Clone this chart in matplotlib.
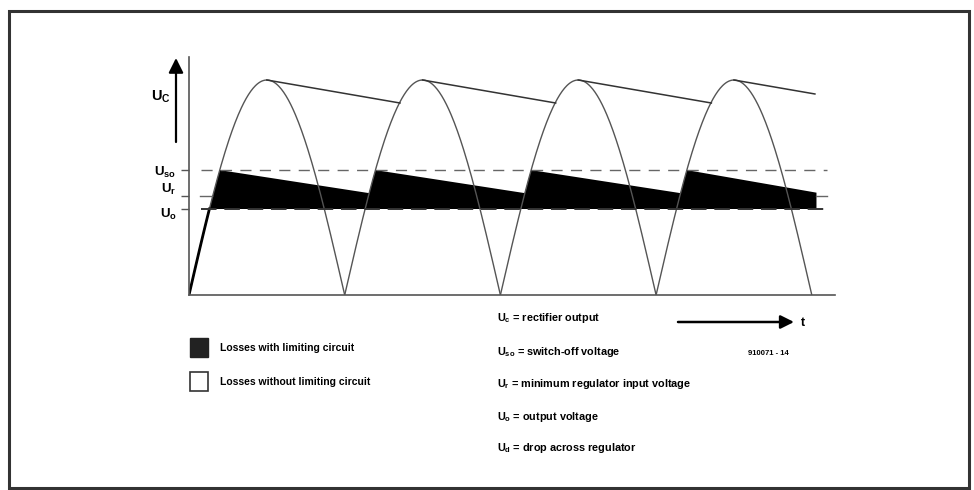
import numpy as np
import matplotlib
matplotlib.use("Agg")
import matplotlib.pyplot as plt
from matplotlib.patches import Rectangle

plt.rcParams['font.family'] = ['Liberation Sans', 'DejaVu Sans']
plt.rcParams['font.weight'] = 'bold'
plt.rcParams['mathtext.fontset'] = 'custom'
plt.rcParams['mathtext.rm'] = 'Liberation Sans:bold'
plt.rcParams['mathtext.it'] = 'Liberation Sans:bold'
plt.rcParams['mathtext.bf'] = 'Liberation Sans:bold'

# x in half-periods of the mains, y relative to the peak voltage
arch_zeros = [0, 1, 2, 3]          # start of each rectified half wave
peak = 1.0
u_so = 0.581                        # switch-off voltage
u_r = 0.46                          # min regulator input
u_o = 0.40                          # output voltage

# capacitor discharge lines (peak -> where next half wave catches up)
cap_x0 = [0.5, 1.5, 2.5, 3.5]
cap_x1 = [1.355, 2.355, 3.355, 4.02]
cap_y1 = [0.893, 0.893, 0.893, 0.935]

# limited circuit: charged to U_so, then decays until next half wave
lim_x0 = [0.197, 1.197, 2.197, 3.197]
lim_x1 = [1.155, 2.155, 3.155, 4.03]
lim_y1 = [0.474, 0.474, 0.474, 0.476]

level_labels = [r'$U_{so}$', r'$U_r$', r'$U_o$']
legend_items = ['Losses with limiting circuit', 'Losses without limiting circuit']
notes = [r'$U_c$ = rectifier output',
         r'$U_{so}$ = switch-off voltage',
         r'$U_r$ = minimum regulator input voltage',
         r'$U_o$ = output voltage',
         r'$U_d$ = drop across regulator']

W, H = 974, 490
fig = plt.figure(figsize=(W / 100, H / 100), dpi=100)

# overlay in pixel coordinates for frame, legend and notes
ov = fig.add_axes([0, 0, 1, 1])
ov.set_xlim(0, W)
ov.set_ylim(H, 0)
ov.axis('off')

ax = fig.add_axes([189 / W, 1 - 295 / H, (835 - 189) / W, (295 - 57) / H])
ax.set_xlim(0, 4.149)
ax.set_ylim(0, 1.107)
for s in ['top', 'right']:
    ax.spines[s].set_visible(False)
for s in ['left', 'bottom']:
    ax.spines[s].set_color('#555555')
    ax.spines[s].set_linewidth(1.2)
ax.set_xticks([])
ax.set_yticks([u_so, u_r, u_o])
ax.set_yticklabels([])
ax.tick_params(axis='y', length=6, width=1, color='#555555')
ax.patch.set_alpha(0)


def arch(x):
    return peak * np.abs(np.sin(np.pi * np.asarray(x)))


# rectified sine half waves
for z in arch_zeros:
    xs = np.linspace(z, z + 1, 200)
    ax.plot(xs, arch(xs), color='#555555', lw=1.0)

# capacitor discharge without limiting
for x0, x1, y1 in zip(cap_x0, cap_x1, cap_y1):
    ax.plot([x0, x1], [peak, y1], color='#333333', lw=1.1)

# limiting losses (black area)
x_start = np.arcsin(u_o / peak) / np.pi
px = list(np.linspace(x_start, lim_x0[0], 20))
py = list(arch(px))
for i in range(len(lim_x0)):
    px += [lim_x0[i], lim_x1[i]]
    py += [u_so, lim_y1[i]]
    if i + 1 < len(lim_x0):
        seg = np.linspace(lim_x1[i], lim_x0[i + 1], 10)
        px += list(seg)
        py += [max(lim_y1[i], v) for v in arch(seg)]
px += [lim_x1[-1], x_start]
py += [u_o, u_o]
ax.fill(px, py, color='black', lw=0)

# initial charge ramp
xr = np.linspace(0, x_start, 20)
ax.plot(xr, arch(xr), color='black', lw=2.0)

# reference levels
ax.plot([0.08, 4.1], [u_so, u_so], color='#666666', lw=1.0, dashes=(8, 6))
ax.plot([0.08, 4.1], [u_o, u_o], color='#333333', lw=1.4, dashes=(8, 4))
ax.plot([0.07, 0.15], [u_r, u_r], color='#666666', lw=1.0)
ax.plot([4.03, 4.1], [u_r, u_r], color='#666666', lw=1.0)

# level labels left of the axis
for lab, lev, dy in zip(level_labels, [u_so, u_r, u_o], [2, -5, 4]):
    ax.annotate(lab, xy=(0, lev), xytext=(-9, -dy), textcoords='offset points',
                ha='right', va='center', fontsize=9.5)

# U_C arrow
ov.annotate('', xy=(176, 58), xytext=(176, 142),
            arrowprops=dict(arrowstyle='-|>', color='black', lw=1.6,
                            mutation_scale=22, shrinkA=0, shrinkB=0))
ov.text(151, 97, r'$\mathrm{U_C}$', fontsize=10.5, va='center', ha='left')

# time arrow
ov.annotate('', xy=(794, 322), xytext=(678, 322),
            arrowprops=dict(arrowstyle='-|>', color='black', lw=1.8,
                            mutation_scale=20, shrinkA=0, shrinkB=0))
ov.text(801, 323, 't', fontsize=9, va='center', ha='left')
ov.text(748, 353, '910071 - 14', fontsize=5.5, va='center', ha='left')

# legend
ov.add_patch(Rectangle((190, 338), 18, 19, facecolor='#222222', edgecolor='#222222', lw=1))
ov.add_patch(Rectangle((190, 372), 18, 19, facecolor='white', edgecolor='#333333', lw=1.2))
ov.text(220, 348, legend_items[0], fontsize=7.5, va='center', ha='left')
ov.text(220, 382, legend_items[1], fontsize=7.5, va='center', ha='left')

# notes
note_y = [318, 352, 384, 417, 448]
for yy, t in zip(note_y, notes):
    ov.text(497, yy, t, fontsize=7.8, va='center', ha='left')

# frame
ov.add_patch(Rectangle((9, 11), 960, 477, facecolor='none', edgecolor='#333333', lw=2.2))

fig.savefig('out.png', dpi=100)
